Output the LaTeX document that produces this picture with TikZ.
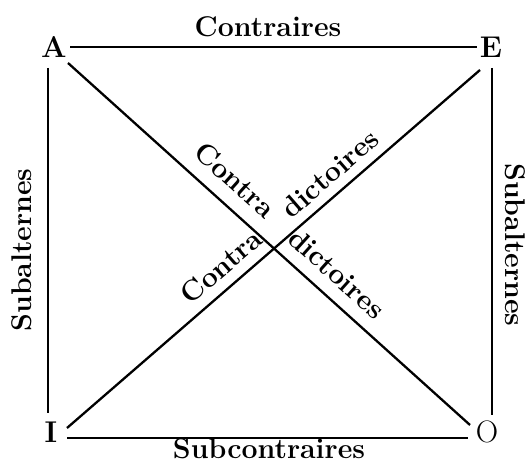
\documentclass[tikz,border=0pt]{standalone}
\begin{document}
\begin{tikzpicture}[x=1pt,y=1pt,
  lbl/.style={font=\fontsize{28.5}{32}\selectfont\bfseries, inner sep=0pt},
  corner/.style={font=\fontsize{30}{32}\selectfont\bfseries, inner sep=0pt},
  ln/.style={line width=2.3pt}]
\useasboundingbox (0,0) rectangle (531,463);
% corners
\node[corner] (A) at (54,416) {A};
\node[corner] (E) at (491,416) {E};
\node[corner] (I) at (51,31) {I};
\node[corner, font=\fontsize{31}{32}\selectfont] (O) at (487,31) {O};
% sides
\draw[ln] ([xshift=16pt]A.center) -- ([xshift=-14pt]E.center);
\draw[ln] ([shift={(16,-6)}]I.center) -- ([shift={(-19,-6)}]O.center);
\draw[ln] ([shift={(-6,-21)}]A.center) -- ([shift={(-3,19)}]I.center);
\draw[ln] ([shift={(1,-21)}]E.center) -- ([shift={(5,17)}]O.center);
% diagonals
\draw[ln] ([shift={(14,-16)}]A.center) -- ([shift={(-17,7)}]O.center);
\draw[ln] ([shift={(16,4)}]I.center) -- ([shift={(-11,-23)}]E.center);
% labels
\node[lbl] (ct) at (268,436) {Contraires};
\node[lbl] (sc) at (269,14) {Subcontraires};
\node[lbl, rotate=90] (sl) at (22,213) {Subalternes};
\node[lbl, rotate=-90] (sr) at (515,218) {Subalternes};
\node[lbl, rotate=-42] (c1) at (235,283) {Contra};
\node[lbl, rotate=41] (d1) at (330,289.5) {dictoires};
\node[lbl, rotate=41] (c2) at (221,196.5) {Contra};
\node[lbl, rotate=-42] (d2) at (337,189.5) {dictoires};
\end{tikzpicture}
\end{document}
